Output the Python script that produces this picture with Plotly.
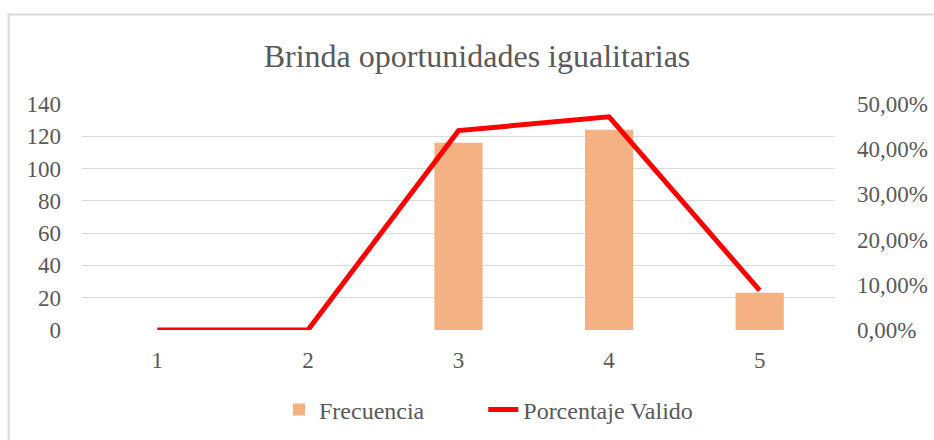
import plotly.graph_objects as go

categories = ["1", "2", "3", "4", "5"]
frecuencia = [0, 0, 116, 124, 23]
porcentaje_valido = [0.0, 0.0, 44.11, 47.15, 8.75]
left_ticks = [0, 20, 40, 60, 80, 100, 120, 140]
right_tickvals = [0, 10, 20, 30, 40, 50]
right_ticktext = ["0,00%", "10,00%", "20,00%", "30,00%", "40,00%", "50,00%"]

FONT = "Liberation Serif, Times New Roman, serif"
GRAY = "#595959"

# plot area in pixels: x 81.5..835.5, y 104..330
L, R, T, B = 81.5, 835.5, 104, 330
def px_x(p):
    return (p - L) / (R - L)
def px_y(p):
    return (B - p) / (B - T)

NBSP = "\u00a0"

fig = go.Figure()
fig.add_trace(go.Bar(
    x=categories, y=frecuencia, name="Frecuencia" + NBSP * 9,
    marker=dict(color="#F4B183", line=dict(width=0)),
    width=0.32, yaxis="y",
))
fig.add_trace(go.Scatter(
    x=categories, y=porcentaje_valido, name="Porcentaje Valido",
    mode="lines", line=dict(color="#FF0000", width=5),
    yaxis="y2",
))

fig.update_layout(
    width=934, height=440,
    margin=dict(l=81.5, r=934 - 835.5, t=104, b=110),
    paper_bgcolor="white", plot_bgcolor="white",
    font=dict(family=FONT, size=23, color=GRAY),
    title=dict(text="Brinda oportunidades igualitarias", xref="container", x=477 / 934,
               xanchor="center", yref="container", y=1 - 56 / 440, yanchor="middle",
               font=dict(family=FONT, size=32, color=GRAY)),
    showlegend=True,
    legend=dict(orientation="h", xref="container", x=279 / 934, xanchor="left",
                yref="container", y=1 - 410 / 440, yanchor="middle",
                font=dict(family=FONT, size=24, color=GRAY), bgcolor="rgba(0,0,0,0)",
                traceorder="normal"),
    xaxis=dict(type="category", categoryorder="array", categoryarray=categories,
               showgrid=False, showline=False, zeroline=False, ticks="", automargin=False,
               ticklabelstandoff=14, tickfont=dict(family=FONT, size=23, color=GRAY)),
    yaxis=dict(range=[0, 140], tickvals=left_ticks, showgrid=True, gridcolor="#D9D9D9",
               gridwidth=1, zeroline=False, showline=False, ticks="", automargin=False,
               ticklabelstandoff=20, tickfont=dict(family=FONT, size=23, color=GRAY)),
    yaxis2=dict(range=[0, 50], overlaying="y", side="right", tickvals=right_tickvals,
                ticktext=right_ticktext, showgrid=False, zeroline=False, showline=False,
                ticks="", ticklabelstandoff=21, automargin=False,
                tickfont=dict(family=FONT, size=23, color=GRAY)),
)

# chart-area border (left and top edges visible)
fig.add_shape(type="line", xref="paper", yref="paper",
              x0=px_x(8), x1=px_x(8), y0=px_y(14.5), y1=px_y(445),
              line=dict(color="#D9D9D9", width=2), layer="below")
fig.add_shape(type="line", xref="paper", yref="paper",
              x0=px_x(7), x1=px_x(940), y0=px_y(14.5), y1=px_y(14.5),
              line=dict(color="#D9D9D9", width=2), layer="below")

fig.write_html("out.html", config={"displayModeBar": False},
               post_script="document.body.style.margin='0';document.body.style.overflow='hidden';")
